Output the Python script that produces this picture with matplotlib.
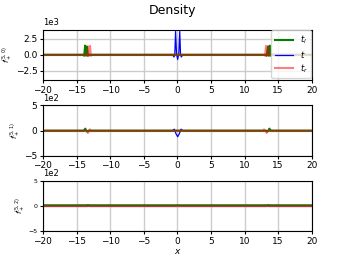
import matplotlib
matplotlib.use("Agg")
import matplotlib.pyplot as plt

# --- data ---
# top panel f_+^(5,0)
x_l0 = [-20, -14.0, -13.85, -13.72, -13.6, -13.45, -13.3, -13.15, 13.15, 13.3, 13.5, 13.62, 13.75, 13.88, 14.0, 20]
y_l0 = [0, 0, -150, 1450, -120, 1300, -150, 0, 0, -150, 1300, -120, 1450, -150, 0, 0]
x_r0 = [-20, -13.55, -13.4, -13.25, -13.12, -13.0, -12.85, -12.7, 12.9, 13.05, 13.2, 13.32, 13.45, 13.6, 13.75, 20]
y_r0 = [0, 0, -150, 1300, -120, 1400, -150, 0, 0, -150, 1400, -120, 1300, -150, 0, 0]
x_c0 = [-20, -0.7, -0.5, -0.38, -0.26, -0.12, 0.05, 0.22, 0.36, 0.48, 0.6, 0.8, 20]
y_c0 = [0, 0, -350, 0, 3700, 200, -750, 200, 3700, 0, -350, 0, 0]

# middle panel f_+^(5,1)
x_l1 = [-20, -13.9, -13.7, -13.55, -13.4, -13.25, 13.25, 13.4, 13.55, 13.7, 13.9, 20]
y_l1 = [0, 0, 40, 0, -15, 0, 0, -15, 0, 40, 0, 0]
x_r1 = [-20, -13.5, -13.3, -13.15, -13.0, -12.85, 12.75, 12.9, 13.1, 13.3, 13.5, 20]
y_r1 = [0, 0, -45, 0, 25, 0, 0, 25, 0, -45, 0, 0]
x_c1 = [-20, -0.7, -0.45, -0.2, 0.05, 0.3, 0.55, 0.8, 20]
y_c1 = [0, 0, 30, -60, -120, -60, 30, 0, 0]

# bottom panel f_+^(5,2)
x_l2 = [-20, -13.5, -13.3, -13.1, 13.3, 13.5, 13.7, 20]
y_l2 = [10, 10, 14, 10, 10, 14, 10, 10]
x_r2 = [-20, -13.4, -13.2, -13.0, 13.2, 13.4, 13.6, 20]
y_r2 = [-8, -8, 4, -8, -8, 4, -8, -8]
x_c2 = [-20, -0.3, 0.0, 0.3, 20]
y_c2 = [0, 0, 6, 0, 0]

ylabels = [r"$f_+^{(5,0)}$", r"$f_+^{(5,1)}$", r"$f_+^{(5,2)}$"]
ylims = [(-4000, 4000), (-500, 500), (-500, 500)]
yticks = [[-2500, 0, 2500], [-500, 0, 500], [-500, 0, 500]]

panels = [
    (x_l0, y_l0, x_c0, y_c0, x_r0, y_r0),
    (x_l1, y_l1, x_c1, y_c1, x_r1, y_r1),
    (x_l2, y_l2, x_c2, y_c2, x_r2, y_r2),
]

fig = plt.figure(figsize=(3.46, 2.59), dpi=100)
fig.suptitle("Density", fontsize=9, x=0.5, y=0.985)

bottoms = [0.691, 0.398, 0.108]
for i, (xl, yl, xc, yc, xr, yr) in enumerate(panels):
    ax = fig.add_axes([0.124, bottoms[i], 0.777, 0.195])
    ax.plot(xl, yl, color="green", lw=1.5, label=r"$t_l$", zorder=2.1)
    ax.plot(xc, yc, color="blue", lw=0.9, label=r"$t$", zorder=2.0)
    ax.plot(xr, yr, color="red", lw=1.5, alpha=0.5, label=r"$t_r$", zorder=2.2)
    ax.set_xlim(-20, 20)
    ax.set_ylim(*ylims[i])
    ax.set_yticks(yticks[i])
    ax.set_xticks([-20, -15, -10, -5, 0, 5, 10, 15, 20])
    ax.grid(True, color="#cccccc", lw=1)
    ax.ticklabel_format(axis="y", style="sci", scilimits=(0, 0))
    ax.yaxis.get_offset_text().set_fontsize(6)
    ysize = 4.5 if i == 2 else 6.5
    ax.tick_params(axis="y", labelsize=ysize, length=2.5, pad=1.5)
    ax.tick_params(axis="x", labelsize=6.5, length=2.5, pad=1.5)
    ax.set_ylabel(ylabels[i], fontsize=5, labelpad=0.5)
    if i == 0:
        ax.legend(loc="upper right", fontsize=6, handlelength=2.2,
                  borderaxespad=0.1, labelspacing=0.3, framealpha=0.8)
    if i == 2:
        ax.set_xlabel(r"$x$", fontsize=6.5, labelpad=1)

fig.savefig("out.png", dpi=100)
